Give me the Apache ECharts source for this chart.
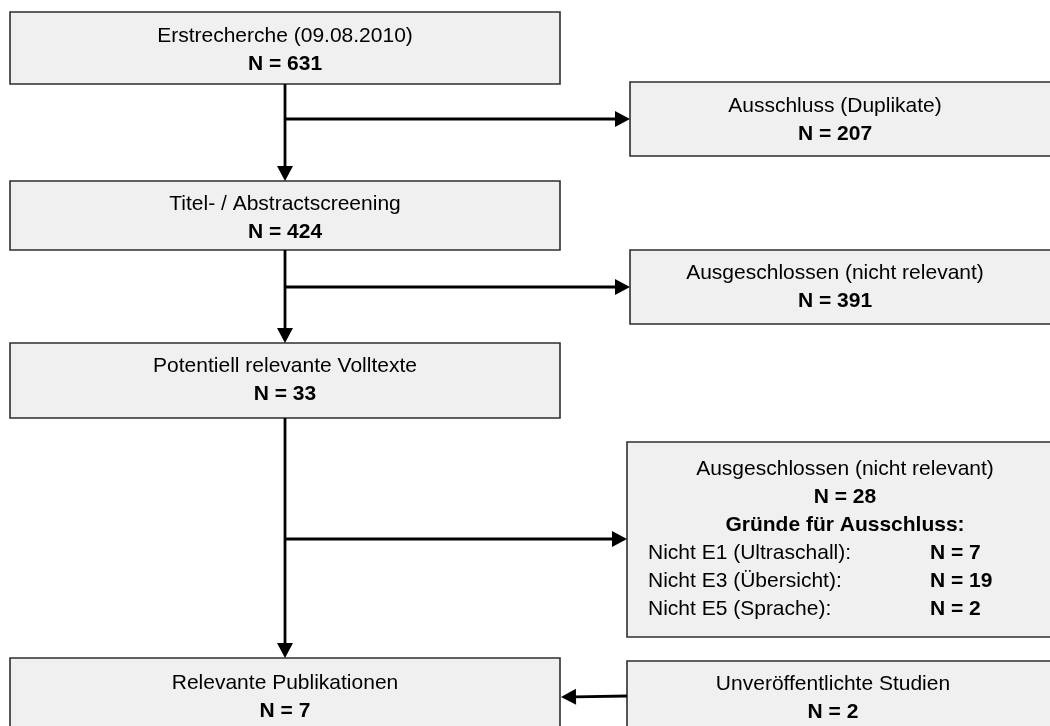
<!DOCTYPE html>
<html lang="de">
<head>
    <meta charset="UTF-8">
    <title>Flussdiagramm Literaturrecherche</title>
    <script src="https://cdn.jsdelivr.net/npm/echarts@6/dist/echarts.min.js"></script>
    <style>
        html, body { margin: 0; padding: 0; background: #fff; }
        #main { width: 1050px; height: 726px; }
    </style>
</head>
<body>
<div id="main"></div>
<script>
    // Inhalte / Werte
    var mainSteps = ['Erstrecherche (09.08.2010)', 'Titel- / Abstractscreening', 'Potentiell relevante Volltexte', 'Relevante Publikationen'];
    var mainCounts = [631, 424, 33, 7];
    var sideSteps = ['Ausschluss (Duplikate)', 'Ausgeschlossen (nicht relevant)', 'Ausgeschlossen (nicht relevant)', 'Unveröffentlichte Studien'];
    var sideCounts = [207, 391, 28, 2];
    var reasonHeading = 'Gründe für Ausschluss:';
    var reasonLabels = ['Nicht E1 (Ultraschall):', 'Nicht E3 (Übersicht):', 'Nicht E5 (Sprache):'];
    var reasonCounts = [7, 19, 2];

    // Layout (Pixelraster 1050 x 726): x0, y0, x1, y1, Textmitte x, erste Zeile y
    var mainLayout = [
        [10, 12, 560, 84, 285, 36],
        [10, 181, 560, 250, 285, 204],
        [10, 343, 560, 418, 285, 366],
        [10, 658, 560, 770, 285, 683]
    ];
    var sideLayout = [
        [630, 82, 1060, 156, 835, 106],
        [630, 250, 1060, 324, 835, 273],
        [627, 442, 1060, 637, 845, 469],
        [627, 661, 1060, 770, 833, 684]
    ];
    var reasonCols = [648, 930];
    var lineGap = 28;

    // Verbindungen: von (x,y) nach (x,y)
    var links = [
        [285, 84, 285, 181], [285, 119, 630, 119],
        [285, 250, 285, 343], [285, 287, 630, 287],
        [285, 418, 285, 658], [285, 539, 627, 539],
        [627, 696, 561, 697]
    ];

    function font(bold) {
        return (bold ? 'bold ' : '') + '21px "Liberation Sans", Arial, sans-serif';
    }

    var boxes = [];
    mainSteps.forEach(function (t, i) {
        var l = mainLayout[i];
        boxes.push({rect: l, lines: [
            {text: t, x: l[4], y: l[5], align: 'center'},
            {text: 'N = ' + mainCounts[i], bold: true, x: l[4], y: l[5] + lineGap, align: 'center'}
        ]});
    });
    sideSteps.forEach(function (t, i) {
        var l = sideLayout[i];
        var lines = [
            {text: t, x: l[4], y: l[5], align: 'center'},
            {text: 'N = ' + sideCounts[i], bold: true, x: l[4], y: l[5] + lineGap, align: 'center'}
        ];
        if (i === 2) {
            lines.push({text: reasonHeading, bold: true, x: l[4], y: l[5] + 2 * lineGap, align: 'center'});
            reasonLabels.forEach(function (r, k) {
                var y = l[5] + (3 + k) * lineGap;
                lines.push({text: r, x: reasonCols[0], y: y, align: 'left'});
                lines.push({text: 'N = ' + reasonCounts[k], bold: true, x: reasonCols[1], y: y, align: 'left'});
            });
        }
        boxes.push({rect: l, lines: lines});
    });

    function renderBox(params, api) {
        var b = boxes[params.dataIndex];
        var p0 = api.coord([api.value(0), api.value(1)]);
        var p1 = api.coord([api.value(2), api.value(3)]);
        var children = [{
            type: 'rect',
            shape: {x: p0[0], y: p0[1], width: p1[0] - p0[0], height: p1[1] - p0[1]},
            style: {fill: '#f0f0f0', stroke: '#2e2e2e', lineWidth: 1.6}
        }];
        b.lines.forEach(function (ln) {
            var pt = api.coord([ln.x, ln.y]);
            children.push({
                type: 'text',
                style: {
                    text: ln.text, x: pt[0], y: pt[1], fill: '#000',
                    font: font(ln.bold), align: ln.align, verticalAlign: 'middle'
                }
            });
        });
        return {type: 'group', children: children};
    }

    function renderLink(params, api) {
        var a = api.coord([api.value(0), api.value(1)]);
        var b = api.coord([api.value(2), api.value(3)]);
        var dx = b[0] - a[0], dy = b[1] - a[1];
        var len = Math.sqrt(dx * dx + dy * dy);
        var ux = dx / len, uy = dy / len;
        var head = 15, half = 8;
        var base = [b[0] - ux * head, b[1] - uy * head];
        return {
            type: 'group',
            children: [{
                type: 'line',
                shape: {x1: a[0], y1: a[1], x2: base[0] + ux, y2: base[1] + uy},
                style: {stroke: '#000', lineWidth: 2.8}
            }, {
                type: 'polygon',
                shape: {points: [b, [base[0] - uy * half, base[1] + ux * half], [base[0] + uy * half, base[1] - ux * half]]},
                style: {fill: '#000'}
            }]
        };
    }

    var chart = echarts.init(document.getElementById('main'));
    chart.setOption({
        animation: false,
        grid: {left: 0, right: 0, top: 0, bottom: 0},
        xAxis: {type: 'value', min: 0, max: 1050, show: false},
        yAxis: {type: 'value', min: 0, max: 726, inverse: true, show: false},
        series: [{
            type: 'custom',
            clip: false,
            silent: true,
            renderItem: renderBox,
            encode: {x: [0, 2], y: [1, 3]},
            data: boxes.map(function (b) { return b.rect.slice(0, 4); })
        }, {
            type: 'custom',
            clip: false,
            silent: true,
            renderItem: renderLink,
            encode: {x: [0, 2], y: [1, 3]},
            data: links
        }]
    });
</script>
</body>
</html>
